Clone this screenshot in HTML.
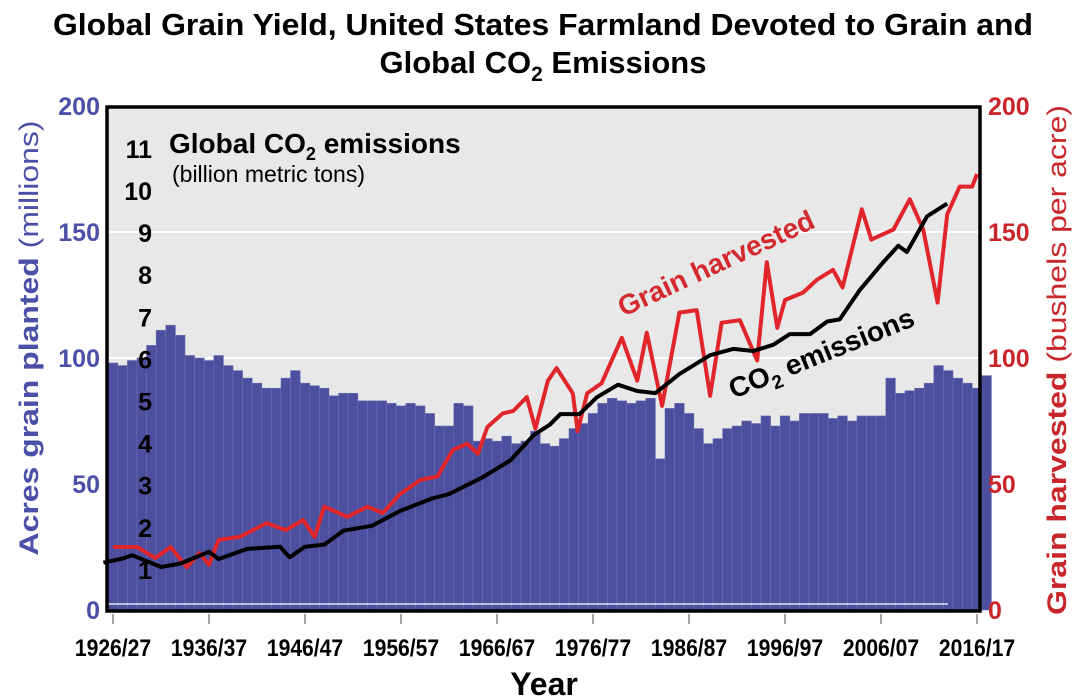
<!DOCTYPE html>
<html><head><meta charset="utf-8"><style>
body{margin:0;background:#fff;}
svg{display:block;font-family:"Liberation Sans",sans-serif;}
</style></head><body>
<svg id="chart" width="1087" height="699" viewBox="0 0 1087 699">
<text x="543" y="35" text-anchor="middle" font-size="31" font-weight="bold" textLength="980" lengthAdjust="spacingAndGlyphs">Global Grain Yield, United States Farmland Devoted to Grain and</text>
<text x="543" y="73" text-anchor="middle" font-size="31" font-weight="bold">Global CO<tspan font-size="21" dy="8">2</tspan><tspan dy="-8"> Emissions</tspan></text>
<rect x="107" y="107" width="873" height="504" fill="#e8e8e8"/>
<g id="grid"></g>
<g id="bars"></g>
<g id="lines"></g>
<rect x="107" y="107" width="873" height="504" fill="none" stroke="#000" stroke-width="3.5"/>
<g id="axes"></g>
<text transform="translate(38,338) rotate(-90)" text-anchor="middle" font-size="27" fill="#4a4fa8" textLength="435" lengthAdjust="spacingAndGlyphs"><tspan font-weight="bold">Acres grain planted</tspan> (millions)</text>
<text transform="translate(1066,360) rotate(-90)" text-anchor="middle" font-size="27" fill="#c8262a" textLength="510" lengthAdjust="spacingAndGlyphs"><tspan font-weight="bold">Grain harvested</tspan> (bushels per acre)</text>
<text x="544" y="695" text-anchor="middle" font-size="32" font-weight="bold">Year</text>
<text x="169" y="153" font-size="28" font-weight="bold">Global CO<tspan font-size="18" dy="7">2</tspan><tspan dy="-7"> emissions</tspan></text>
<text x="172" y="182" font-size="23">(billion metric tons)</text>
<text transform="translate(720,272) rotate(-25)" text-anchor="middle" font-size="28" font-weight="bold" fill="#d42a2e">Grain harvested</text>
<text transform="translate(825,362) rotate(-22)" text-anchor="middle" font-size="28" font-weight="bold">CO<tspan font-size="19" dy="7">2</tspan><tspan dy="-7"> emissions</tspan></text>
</svg>
<script>
const barYears = [];
for (let y = 1926; y <= 2017; y++) barYears.push(y);
const acres = [98,97,99,100,105,111,113,109,101,100,99,101,97,95,92,90,88,88,92,95,90,89,88,85,86,86,83,83,83,82,81,82,81,78,73,73,82,81,67,68,67,69,66,67,71,66,65,68,72,74,78,82,84,83,82,83,84,60,80,82,78,72,66,68,72,73,75,74,77,73,77,75,78,78,78,76,77,75,77,77,77,92,86,87,88,90,97,95,92,90,88,93];
const grainYears = [1926,1928.5,1930.4,1932,1933.7,1935,1936,1937,1939.2,1942,1944,1945.8,1947,1948,1950.4,1952.5,1954.1,1955.9,1958,1959.8,1961.4,1962.9,1964,1965,1966.6,1967.7,1969.1,1970,1971.3,1972.2,1973.9,1974.4,1975.4,1976.9,1979,1980.6,1981.6,1983.2,1985,1986.8,1988.2,1989.4,1991.3,1993.1,1994.1,1995.2,1996,1997.9,1999.3,2001,2002,2004,2005,2007.3,2009,2010.4,2011.9,2012.9,2014.2,2015.5,2016];
const grain = [25,25,20.6,25,17,22.6,17.9,27.8,29,34.5,31.7,35.7,29,41,37,41,38.5,46,51.6,53,63.5,66,62,72.6,78,79,84.5,72,91,96,86,71,86,90,108,91,110,81,118,119,85,114,115,99,138,112,123,126,131,135,128,159,147,151,163,151,122,157,168,168,173];
const co2Years = [1925,1927,1928,1931,1933,1936,1937,1940,1943.4,1944.4,1946,1948,1950,1953,1955.9,1959.3,1961,1964.5,1967.4,1969.8,1971.5,1972.6,1974.6,1976.4,1978.6,1980.6,1982.5,1985,1988.2,1990.6,1992.7,1994.8,1996.5,1998.6,2000.4,2001.7,2003.8,2006.2,2007.8,2008.7,2010.8,2012.9];
const co2 = [1.17,1.27,1.35,1.07,1.15,1.43,1.26,1.5,1.55,1.3,1.55,1.6,1.93,2.05,2.4,2.7,2.8,3.2,3.6,4.2,4.45,4.7,4.7,5.1,5.4,5.25,5.2,5.65,6.1,6.25,6.2,6.35,6.6,6.6,6.9,6.95,7.65,8.3,8.7,8.55,9.4,9.7];
const leftTicks = [0,50,100,150,200];
const co2Ticks = [1,2,3,4,5,6,7,8,9,10,11];
const xTickLabels = ["1926/27","1936/37","1946/47","1956/57","1966/67","1976/77","1986/87","1996/97","2006/07","2016/17"];
const xTickYears = [1926,1936,1946,1956,1966,1976,1986,1996,2006,2016];

const NS = "http://www.w3.org/2000/svg";
const xS = y => 113 + (y - 1926) * 9.6;
const yS = v => 610 - v * 2.52;
const cS = v => 612 - v * 42.1;
function mk(tag, attrs, parent, text) {
  const e = document.createElementNS(NS, tag);
  for (const k in attrs) e.setAttribute(k, attrs[k]);
  if (text !== undefined) e.textContent = text;
  parent.appendChild(e); return e;
}
const grid = document.getElementById('grid'), bars = document.getElementById('bars'),
      lines = document.getElementById('lines'), axes = document.getElementById('axes');
[100,150].forEach(v => {
  const g = mk('line', {x1:107, x2:980, y1:yS(v), y2:yS(v), stroke:'#fff', 'stroke-width':2}, grid);
  
  
});
barYears.forEach((yr, i) => {
  const b = mk('rect', {x:xS(yr)-4.8, y:yS(acres[i]), width:9.6, height:610-yS(acres[i]), fill:'#4b4f9e', stroke:'#6a6fb5', 'stroke-width':0.6}, bars);
  
  
});
const base = mk('line', {x1:107, x2:948, y1:604, y2:604, stroke:'#fff', 'stroke-width':1.2}, bars);


const gp = grainYears.map((y,i) => xS(y).toFixed(1)+','+yS(grain[i]).toFixed(1)).join(' ');
const gl = mk('polyline', {points:gp, fill:'none', stroke:'#e0262b', 'stroke-width':4, 'stroke-linejoin':'round'}, lines);


const cp = co2Years.map((y,i) => xS(y).toFixed(1)+','+cS(co2[i]).toFixed(1)).join(' ');
const cl = mk('polyline', {points:cp, fill:'none', stroke:'#000', 'stroke-width':4, 'stroke-linejoin':'round'}, lines);


leftTicks.forEach(v => {
  const t = mk('text', {x:100, y:yS(v)+9, 'text-anchor':'end', 'font-size':25, 'font-weight':'bold', fill:'#4a4fa8'}, axes, String(v));
  
  
  const r = mk('text', {x:988, y:yS(v)+9, 'font-size':25, 'font-weight':'bold', fill:'#c8262a'}, axes, String(v));
  
  
});
co2Ticks.forEach(v => {
  const t = mk('text', {x:152, y:cS(v)+9, 'text-anchor':'end', 'font-size':25, 'font-weight':'bold', fill:'#000'}, axes, String(v));
  
  
});
xTickYears.forEach((yr, i) => {
  const tk = mk('line', {x1:xS(yr), x2:xS(yr), y1:614, y2:624, stroke:'#888', 'stroke-width':1.5}, axes);
  
  
  const t = mk('text', {x:xS(yr), y:656, 'text-anchor':'middle', 'font-size':24, 'font-weight':'bold', transform:'translate('+xS(yr)+',0) scale(0.88,1) translate('+(-xS(yr))+',0)'}, axes, xTickLabels[i]);
  
  
});
</script>
</body></html>
